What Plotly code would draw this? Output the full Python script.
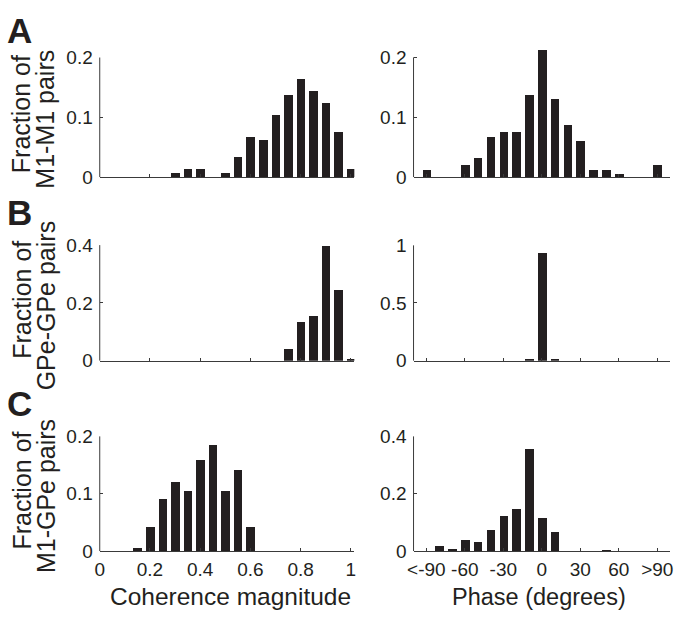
import plotly.graph_objects as go

W, H = 680, 625

# ---------------- data ----------------
coh_bins = [round(0.05 * i, 2) for i in range(21)]  # 0 .. 1.0
phase_bins = list(range(-90, 91, 10))               # -90 .. 90

coh_m1m1 = [0, 0, 0, 0, 0, 0, 0.006, 0.013, 0.013, 0, 0.006, 0.033, 0.067, 0.061,
            0.103, 0.137, 0.164, 0.143, 0.123, 0.075, 0.013]
coh_gpegpe = [0, 0, 0, 0, 0, 0, 0, 0, 0, 0, 0, 0, 0, 0, 0, 0.042, 0.134, 0.156,
              0.397, 0.247, 0.008]
coh_m1gpe = [0, 0, 0, 0.006, 0.041, 0.091, 0.120, 0.105, 0.159, 0.184, 0.105, 0.141,
             0.041, 0, 0, 0, 0, 0, 0, 0, 0]

phase_m1m1 = [0.013, 0, 0, 0.020, 0.033, 0.067, 0.075, 0.075, 0.137, 0.212, 0.130,
              0.088, 0.061, 0.013, 0.013, 0.006, 0, 0, 0.020]
phase_gpegpe = [0, 0, 0, 0, 0, 0, 0, 0, 0.014, 0.928, 0.014, 0, 0, 0, 0, 0, 0, 0, 0]
phase_m1gpe = [0, 0.016, 0.008, 0.040, 0.032, 0.072, 0.121, 0.145, 0.354, 0.115, 0.065,
               0, 0, 0, 0.003, 0, 0, 0, 0]

coh_ticks = [0, 0.2, 0.4, 0.6, 0.8, 1]
coh_ticklabels = ["0", "0.2", "0.4", "0.6", "0.8", "1"]
phase_ticks = [-90, -60, -30, 0, 30, 60, 90]
phase_ticklabels = ["<-90", "-60", "-30", "0", "30", "60", ">90"]

row_yticks = [[0, 0.1, 0.2], [0, 0.2, 0.4], [0, 0.1, 0.2]]
row_yticklabels = [["0", "0.1", "0.2"], ["0", "0.2", "0.4"], ["0", "0.1", "0.2"]]
phase_yticks = [[0, 0.1, 0.2], [0, 0.5, 1], [0, 0.2, 0.4]]
phase_yticklabels = [["0", "0.1", "0.2"], ["0", "0.5", "1"], ["0", "0.2", "0.4"]]

panel_letters = ["A", "B", "C"]
ytitle_line1 = ["Fraction of", "Fraction of", "Fraction of"]
ytitle_line2 = ["M1-M1 pairs", "GPe-GPe pairs", "M1-GPe pairs"]
xtitle_left = "Coherence magnitude"
xtitle_right = "Phase (degrees)"

# ---------------- layout geometry (pixels) ----------------
FONT = "Liberation Sans, Arial, Helvetica, sans-serif"
INK = "#231f20"
AX = "#3a3a3a"

left_px = (95, 353)
right_px = (413, 673)
rows_px = [(173, 49), (363, 243.3), (560, 441)]  # (zero pixel, top tick pixel)

coh_data = [coh_m1m1, coh_gpegpe, coh_m1gpe]
phase_data = [phase_m1m1, phase_gpegpe, phase_m1gpe]

fig = go.Figure()
layout = dict(
    width=W, height=H, margin=dict(l=0, r=0, t=0, b=0),
    paper_bgcolor="white", plot_bgcolor="white", showlegend=False,
    font=dict(family=FONT, color=INK, size=19),
    bargap=0,
)
shapes = []
annotations = []

def xdom(px):
    return [px[0] / W, px[1] / W]

idx = 0
for r in range(3):
    z, t = rows_px[r]
    for side in range(2):
        idx += 1
        xa = "x" if idx == 1 else f"x{idx}"
        ya = "y" if idx == 1 else f"y{idx}"
        if side == 0:
            xs, ys = coh_bins, coh_data[r]
            yt, ytl = row_yticks[r], row_yticklabels[r]
            xr = [0, (left_px[1] - left_px[0]) / 254.5]
            xd = xdom(left_px)
            xt, xtl = coh_ticks, coh_ticklabels
            bw = 0.034
        else:
            xs, ys = phase_bins, phase_data[r]
            yt, ytl = phase_yticks[r], phase_yticklabels[r]
            xr = [-100, 100]
            xd = xdom(right_px)
            xt, xtl = phase_ticks, phase_ticklabels
            bw = 6.7
        T = yt[-1]
        ppu = (z - t) / T
        R = max(T, max(ys) * 1.01)
        top_px = z - R * ppu
        yd = [1 - z / H, 1 - top_px / H]

        fig.add_trace(go.Bar(x=xs, y=ys, width=bw, marker=dict(color=INK, line=dict(width=0)),
                             xaxis=xa, yaxis=ya, hoverinfo="skip"))
        xkey = "xaxis" if idx == 1 else f"xaxis{idx}"
        ykey = "yaxis" if idx == 1 else f"yaxis{idx}"
        layout[xkey] = dict(
            domain=xd, range=xr, anchor=ya, showgrid=False, zeroline=False,
            showline=True, linecolor=AX, linewidth=1,
            ticks="inside", ticklen=3, tickwidth=1, tickcolor=AX,
            tickmode="array", tickvals=xt, ticktext=xtl,
            showticklabels=(r == 2), tickfont=dict(size=19, color=INK),
            ticklabelstandoff=1,
        )
        layout[ykey] = dict(
            domain=yd, range=[0, R], anchor=xa, showgrid=False, zeroline=False,
            showline=False, ticks="inside", ticklen=3, tickwidth=1, tickcolor=AX,
            tickmode="array", tickvals=yt, ticktext=ytl,
            tickfont=dict(size=19, color=INK), ticklabelstandoff=6,
        )
        shapes.append(dict(type="line", xref=f"{xa} domain", yref=ya,
                           x0=0, x1=0, y0=0, y1=T, line=dict(color=AX, width=1)))

    # row annotations
    letter_y = [21, 210, 407.5][r]
    annotations.append(dict(text=f"<b>{panel_letters[r]}</b>", x=14 / W, y=1 - letter_y / H,
                            xref="paper", yref="paper", showarrow=False,
                            font=dict(size=35, color=INK, family=FONT),
                            xanchor="center", yanchor="middle"))
    cy = (z + t) / 2
    annotations.append(dict(text=ytitle_line1[r], x=16 / W, y=1 - (cy - 3) / H,
                            xref="paper", yref="paper", showarrow=False, textangle=-90,
                            font=dict(size=25, color=INK, family=FONT),
                            xanchor="center", yanchor="middle"))
    annotations.append(dict(text=ytitle_line2[r], x=40 / W, y=1 - (cy + 2) / H,
                            xref="paper", yref="paper", showarrow=False, textangle=-90,
                            font=dict(size=25, color=INK, family=FONT),
                            xanchor="center", yanchor="middle"))

annotations.append(dict(text=xtitle_left, x=228 / W, y=1 - 607 / H,
                        xref="paper", yref="paper", showarrow=False,
                        font=dict(size=24.5, color=INK, family=FONT),
                        xanchor="center", yanchor="middle"))
annotations.append(dict(text=xtitle_right, x=540 / W, y=1 - 607 / H,
                        xref="paper", yref="paper", showarrow=False,
                        font=dict(size=23.5, color=INK, family=FONT),
                        xanchor="center", yanchor="middle"))

layout["shapes"] = shapes
layout["annotations"] = annotations
fig.update_layout(**layout)
fig.write_html(
    "out.html",
    config={"displayModeBar": False},
    post_script=("document.body.style.margin='0';"
                 "document.body.style.overflow='hidden';"
                 "document.documentElement.style.overflow='hidden';"),
)
